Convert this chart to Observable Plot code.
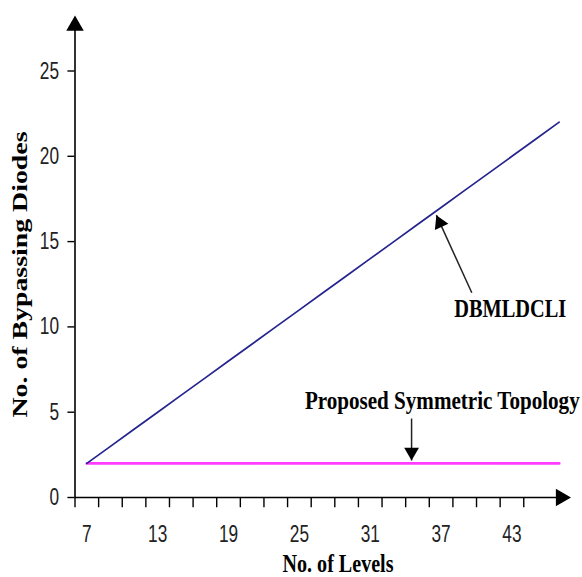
<!DOCTYPE html>
<html>
<head>
<meta charset="utf-8">
<script src="https://cdn.jsdelivr.net/npm/d3@7"></script>
<script src="https://cdn.jsdelivr.net/npm/@observablehq/plot@0.6"></script>
<style>
  html, body { margin: 0; padding: 0; background: #fff; }
  #chart svg { display: block; }
</style>
</head>
<body>
<div id="chart"></div>
<script>
// ---- data ----
const levels   = [7, 9, 11, 13, 15, 17, 19, 21, 23, 25, 27, 29, 31, 33, 35, 37, 39, 41, 43, 45, 47];
const dbmldcli = [2, 3, 4, 5, 6, 7, 8, 9, 10, 11, 12, 13, 14, 15, 16, 17, 18, 19, 20, 21, 22];
const proposed = [2, 2, 2, 2, 2, 2, 2, 2, 2, 2, 2, 2, 2, 2, 2, 2, 2, 2, 2, 2, 2];

const xTickLabels = [7, 13, 19, 25, 31, 37, 43];
const xTickMarks  = [6, 8, 10, 12, 14, 16, 18, 20, 22, 24, 26, 28, 30, 32, 34, 36, 38, 40, 42, 44];
const yTickLabels = [0, 5, 10, 15, 20, 25];

const xTitle = "No. of Levels";
const yTitle = "No. of Bypassing Diodes";
const noteLabels = ["DBMLDCLI", "Proposed Symmetric Topology"];
// annotation anchor points in data units
const noteTextX = [42.85, 37.1];
const noteTextY = [11.1, 5.66];
const noteArrowFrom = [[39.6, 12.0], [34.5, 4.63]];
const noteArrowTo   = [[36.6, 16.55], [34.5, 2.17]];

const lineRows = levels.map((n, i) => ({n, dbmldcli: dbmldcli[i], proposed: proposed[i]}));
const arrowRows = noteArrowFrom.map((f, i) => ({x1: f[0], y1: f[1], x2: noteArrowTo[i][0], y2: noteArrowTo[i][1]}));
const noteRows = noteLabels.map((t, i) => ({t, x: noteTextX[i], y: noteTextY[i]}));

const serif = "'Liberation Serif', 'Times New Roman', serif";
const sans = "'Liberation Sans', Arial, sans-serif";

const chart = Plot.plot({
  width: 582,
  height: 577,
  marginLeft: 0, marginRight: 0, marginTop: 0, marginBottom: 0,
  style: {background: "white"},
  x: {domain: [6, 48], range: [74.5, 570.5], axis: null},
  y: {domain: [0, 25], range: [497, 70.5], axis: null},
  marks: [
    // axes lines
    Plot.ruleY([0], {x1: 6, x2: 47.4, stroke: "black", strokeWidth: 1.6}),
    Plot.ruleX([6], {y1: 0, y2: 27.5, stroke: "black", strokeWidth: 1.6}),
    Plot.dot([{x: 48, y: 0}], {x: "x", y: "y", symbol: "triangle", r: 6.5, rotate: 90, dx: -10.1, fill: "black", stroke: null}),
    Plot.dot([{x: 6, y: 28.25}], {x: "x", y: "y", symbol: "triangle", r: 6.5, rotate: 0, dy: 10.1, fill: "black", stroke: null}),
    // tick marks
    Plot.ruleX(xTickMarks, {x: d => d, y1: 0, y2: -0.6, stroke: "black", strokeWidth: 1.4}),
    Plot.ruleY(yTickLabels, {y: d => d, x1: 6, x2: 5.4, stroke: "black", strokeWidth: 1.4}),
    // tick labels
    Plot.text(xTickLabels, {x: d => d, y: 0, dy: 37, text: d => String(d), fontFamily: sans, fontSize: 23, fill: "#222"}),
    Plot.text(yTickLabels, {x: 6, y: d => d, dx: -16, text: d => String(d), textAnchor: "end", fontFamily: sans, fontSize: 23, fill: "#222"}),
    // axis titles
    Plot.text([xTitle], {x: 28.27, y: -3.9, text: d => d, fontFamily: serif, fontWeight: "bold", fontSize: 25, fill: "black"}),
    Plot.text([yTitle], {x: 1.39, y: 13.07, text: d => d, rotate: -90, fontFamily: serif, fontWeight: "bold", fontSize: 21, fill: "black"}),
    // series
    Plot.line(lineRows, {x: "n", y: "proposed", stroke: "#ff3cff", strokeWidth: 2.6}),
    Plot.line(lineRows, {x: "n", y: "dbmldcli", stroke: "#24248f", strokeWidth: 1.7}),
    // annotations
    Plot.link(arrowRows, {x1: "x1", y1: "y1", x2: "x2", y2: "y2", stroke: "#222", strokeWidth: 1.5}),
    Plot.dot([arrowRows[0]], {x: "x2", y: "y2", symbol: "triangle", r: 5.5, rotate: -24.3, dx: 3.5, dy: 7.8, fill: "black", stroke: null}),
    Plot.dot([arrowRows[1]], {x: "x2", y: "y2", symbol: "triangle", r: 5.5, rotate: 180, dy: -8.55, fill: "black", stroke: null}),
    Plot.text(noteRows, {x: "x", y: "y", text: "t", fontFamily: serif, fontWeight: "bold", fontSize: 26, fill: "black"})
  ]
});

document.getElementById("chart").appendChild(chart);

// The reference lettering is tall and narrow: shrink the font so its natural
// width matches, then stretch it vertically back to the reference height.
const widths = {
  "DBMLDCLI": 112,
  "Proposed Symmetric Topology": 275,
  "No. of Levels": 111,
  "No. of Bypassing Diodes": 286
};
chart.querySelectorAll("text").forEach(t => {
  const s = t.textContent.trim();
  let w = widths[s];
  if (w === undefined && /^\d+$/.test(s)) w = s.length * 9.6;
  if (w === undefined) return;
  if (s === yTitle) {
    t.setAttribute("textLength", w);
    t.setAttribute("lengthAdjust", "spacingAndGlyphs");
    return;
  }
  const fs = parseFloat(getComputedStyle(t).fontSize);
  const L = t.getComputedTextLength();
  if (!(L > 0)) return;
  const nfs = fs * w / L;
  t.style.fontSize = nfs + "px";
  const k = fs / nfs;
  const r = t.getBoundingClientRect();
  const parent = t.parentNode;
  const p = new DOMPoint(r.x + r.width / 2, r.y + r.height / 2)
    .matrixTransform(parent.getScreenCTM().inverse());
  const cy = p.y;
  const g = document.createElementNS("http://www.w3.org/2000/svg", "g");
  g.setAttribute("transform", `translate(0,${cy}) scale(1,${k}) translate(0,${-cy})`);
  parent.insertBefore(g, t);
  g.appendChild(t);
});
</script>
</body>
</html>
